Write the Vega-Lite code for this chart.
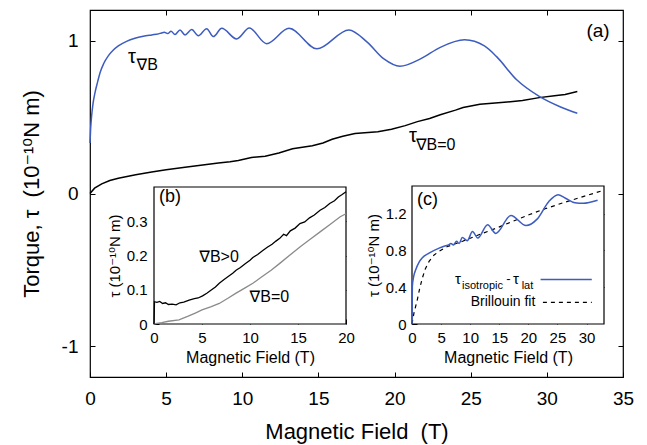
{
  "$schema": "https://vega.github.io/schema/vega-lite/v6.json",
  "width": 533,
  "height": 367,
  "autosize": "none",
  "padding": {"left": 90, "top": 10, "right": 24, "bottom": 68},
  "background": "white",
  "config": {
    "view": {"stroke": "black", "strokeWidth": 1.2},
    "font": "Liberation Sans, DejaVu Sans",
    "axis": {
      "grid": false, "domain": false, "tickColor": "black", "tickWidth": 1,
      "labelColor": "black", "titleColor": "black",
      "labelFont": "Liberation Sans, DejaVu Sans", "titleFont": "Liberation Sans, DejaVu Sans",
      "titleFontWeight": "normal", "zindex": 1, "tickSize": -5,
      "labelFlush": false, "labelOverlap": false, "labelBound": false
    },
    "text": {"font": "Liberation Sans, DejaVu Sans", "color": "black"}
  },
  "datasets": {
    "mainGrad": [
      {"B":0,"T":0.33},{"B":0.04,"T":0.42},{"B":0.1,"T":0.5},{"B":0.2,"T":0.59},{"B":0.33,"T":0.66},{"B":0.5,"T":0.73},{"B":0.66,"T":0.79},{"B":0.9,"T":0.85},{"B":1.2,"T":0.9},{"B":1.5,"T":0.935},{"B":1.86,"T":0.965},{"B":2.4,"T":0.995},{"B":2.95,"T":1.015},{"B":3.5,"T":1.028},{"B":4.05,"T":1.037},{"B":4.5,"T":1.044},{"B":4.7,"T":1.05},{"B":4.88,"T":1.054},{"B":5.1,"T":1.046},{"B":5.32,"T":1.061},{"B":5.58,"T":1.04},{"B":5.91,"T":1.069},{"B":6.24,"T":1.037},{"B":6.68,"T":1.072},{"B":7.11,"T":1.032},{"B":7.66,"T":1.078},{"B":8.1,"T":1.026},{"B":8.65,"T":1.08},{"B":9.63,"T":1.011},{"B":10.46,"T":1.082},{"B":11.6,"T":0.98},{"B":13.07,"T":1.08},{"B":14.9,"T":0.946},{"B":17.0,"T":1.07},{"B":18.2,"T":0.99},{"B":19.3,"T":0.88},{"B":20.35,"T":0.832},{"B":21.7,"T":0.88},{"B":23.0,"T":0.956},{"B":24.6,"T":1.005},{"B":25.9,"T":0.965},{"B":26.7,"T":0.895},{"B":28.0,"T":0.745},{"B":29.5,"T":0.635},{"B":30.9,"T":0.566},{"B":32.0,"T":0.525}
    ],
    "mainZero": [
      {"B":0,"T":0},{"B":0.3,"T":0.035},{"B":0.77,"T":0.063},{"B":1.3,"T":0.085},{"B":1.86,"T":0.1},{"B":3,"T":0.122},{"B":4.05,"T":0.14},{"B":5,"T":0.155},{"B":6.24,"T":0.172},{"B":7.4,"T":0.186},{"B":8.43,"T":0.2},{"B":9.2,"T":0.207},{"B":9.74,"T":0.216},{"B":10.6,"T":0.236},{"B":11.5,"T":0.244},{"B":12.4,"T":0.265},{"B":13.3,"T":0.293},{"B":14.6,"T":0.312},{"B":15.3,"T":0.33},{"B":15.9,"T":0.355},{"B":16.6,"T":0.375},{"B":17.4,"T":0.393},{"B":18.9,"T":0.404},{"B":19.8,"T":0.42},{"B":20.7,"T":0.444},{"B":21.5,"T":0.47},{"B":22.3,"T":0.49},{"B":23.0,"T":0.515},{"B":24.0,"T":0.545},{"B":24.5,"T":0.562},{"B":25.6,"T":0.584},{"B":27,"T":0.595},{"B":28.4,"T":0.608},{"B":29.5,"T":0.627},{"B":30.5,"T":0.64},{"B":31.2,"T":0.648},{"B":32,"T":0.667}
    ],
    "bGrad": [
      {"B":0,"T":0},{"B":0.05,"T":0.065},{"B":0.3,"T":0.063},{"B":0.6,"T":0.066},{"B":0.9,"T":0.06},{"B":1.2,"T":0.062},{"B":1.5,"T":0.057},{"B":1.9,"T":0.058},{"B":2.3,"T":0.056},{"B":2.7,"T":0.062},{"B":3.1,"T":0.064},{"B":3.66,"T":0.07},{"B":4.2,"T":0.074},{"B":4.6,"T":0.076},{"B":5.06,"T":0.082},{"B":5.5,"T":0.09},{"B":6.0,"T":0.1},{"B":6.4,"T":0.108},{"B":6.8,"T":0.119},{"B":7.3,"T":0.13},{"B":7.8,"T":0.14},{"B":8.2,"T":0.148},{"B":8.55,"T":0.157},{"B":9.0,"T":0.165},{"B":9.5,"T":0.176},{"B":10.0,"T":0.186},{"B":10.3,"T":0.194},{"B":10.8,"T":0.203},{"B":11.3,"T":0.214},{"B":11.8,"T":0.224},{"B":12.3,"T":0.233},{"B":12.7,"T":0.242},{"B":13.1,"T":0.25},{"B":13.5,"T":0.262},{"B":13.8,"T":0.258},{"B":14.2,"T":0.272},{"B":14.7,"T":0.28},{"B":15.2,"T":0.293},{"B":15.7,"T":0.298},{"B":16.2,"T":0.31},{"B":16.7,"T":0.318},{"B":17.3,"T":0.332},{"B":17.8,"T":0.34},{"B":18.3,"T":0.352},{"B":18.8,"T":0.36},{"B":19.2,"T":0.371},{"B":19.6,"T":0.378},{"B":20,"T":0.386}
    ],
    "bZero": [
      {"B":0,"T":0},{"B":0.3,"T":0.002},{"B":0.8,"T":0.004},{"B":1.5,"T":0.008},{"B":2.6,"T":0.012},{"B":3.5,"T":0.022},{"B":4.3,"T":0.032},{"B":5.0,"T":0.041},{"B":5.9,"T":0.05},{"B":6.8,"T":0.06},{"B":7.7,"T":0.075},{"B":8.55,"T":0.09},{"B":9.4,"T":0.104},{"B":10.3,"T":0.119},{"B":11.2,"T":0.137},{"B":12.2,"T":0.157},{"B":13.1,"T":0.177},{"B":14.1,"T":0.2},{"B":15.2,"T":0.225},{"B":16.2,"T":0.246},{"B":17.3,"T":0.269},{"B":18.3,"T":0.29},{"B":19.4,"T":0.313},{"B":20,"T":0.322}
    ],
    "cIso": [
      {"B":0,"T":0},{"B":0.03,"T":0.2},{"B":0.06,"T":0.41},{"B":0.3,"T":0.52},{"B":0.64,"T":0.59},{"B":1.2,"T":0.67},{"B":1.78,"T":0.72},{"B":2.93,"T":0.77},{"B":4.66,"T":0.825},{"B":5.5,"T":0.845},{"B":6.38,"T":0.862},{"B":6.68,"T":0.875},{"B":7.11,"T":0.86},{"B":7.66,"T":0.9},{"B":8.1,"T":0.875},{"B":8.65,"T":0.94},{"B":9.5,"T":0.905},{"B":10.4,"T":1.005},{"B":11.3,"T":0.935},{"B":13.0,"T":1.08},{"B":14.4,"T":0.985},{"B":17.0,"T":1.18},{"B":19.6,"T":1.07},{"B":21.5,"T":1.14},{"B":23.5,"T":1.33},{"B":25.1,"T":1.405},{"B":26.3,"T":1.37},{"B":28.0,"T":1.318},{"B":29.4,"T":1.312},{"B":31.9,"T":1.345}
    ],
    "cFit": [
      {"B":0,"T":0},{"B":0.34,"T":0.12},{"B":0.9,"T":0.26},{"B":1.3,"T":0.38},{"B":1.78,"T":0.5},{"B":2.3,"T":0.6},{"B":2.93,"T":0.68},{"B":3.8,"T":0.75},{"B":4.66,"T":0.79},{"B":6,"T":0.84},{"B":8.7,"T":0.9},{"B":11.5,"T":0.97},{"B":14.4,"T":1.04},{"B":17.3,"T":1.115},{"B":20.2,"T":1.19},{"B":23,"T":1.255},{"B":25.9,"T":1.316},{"B":29.4,"T":1.385},{"B":32.8,"T":1.45}
    ]
  },
  "layer": [
    {
      "encoding": {
        "x": {"field": "B", "type": "quantitative",
          "scale": {"domain": [0, 35], "nice": false, "zero": false},
          "axis": {"orient": "bottom", "values": [0,5,10,15,20,25,30,35], "labelExpr": "''+datum.value", "labelFontSize": 19, "labelPadding": 17, "title": "Magnetic Field\u00a0 (T)", "titleFontSize": 22, "titlePadding": 13}},
        "y": {"field": "T", "type": "quantitative",
          "scale": {"domain": [-1.2, 1.2], "nice": false, "zero": false},
          "axis": {"orient": "left", "values": [-1,0,1], "labelExpr": "''+datum.value", "labelFontSize": 19, "labelPadding": 17, "title": "Torque, τ\u00a0 (10⁻¹⁰N m)", "titleFontSize": 22, "titlePadding": 18}}
      },
      "layer": [
        {"data": {"name": "mainZero"}, "mark": {"type": "line", "color": "black", "strokeWidth": 1.5}},
        {"data": {"name": "mainGrad"}, "mark": {"type": "line", "interpolate": "monotone", "color": "#3d5cbf", "strokeWidth": 1.5}},
        {"data": {"values": [{"B": 2.5, "T": 0.89, "label": "τ"}, {"B": 20.95, "T": 0.373, "label": "τ"}]},
         "mark": {"type": "text", "align": "left", "baseline": "middle", "fontSize": 20},
         "encoding": {"text": {"field": "label"}}},
        {"data": {"values": [{"B": 3.05, "T": 0.84, "label": "∇B"}, {"B": 21.4, "T": 0.32, "label": "∇B=0"}]},
         "mark": {"type": "text", "align": "left", "baseline": "middle", "fontSize": 16},
         "encoding": {"text": {"field": "label"}}},
        {"data": {"values": [{"B": 32.6, "T": 1.062, "label": "(a)"}]},
         "mark": {"type": "text", "align": "left", "baseline": "middle", "fontSize": 19},
         "encoding": {"text": {"field": "label"}}}
      ]
    },
    {
      "data": {"values": [{"B": 0, "T": 0}]},
      "mark": {"type": "point", "opacity": 0},
      "encoding": {
        "x": {"field": "B", "type": "quantitative", "scale": {"domain": [0, 35], "nice": false, "zero": false},
          "axis": {"orient": "top", "values": [5,10,15,20,25,30], "labels": false, "title": null}},
        "y": {"field": "T", "type": "quantitative", "scale": {"domain": [-1.2, 1.2], "nice": false, "zero": false},
          "axis": {"orient": "right", "values": [-1,0,1], "labels": false, "title": null}}
      }
    },
    {
      "encoding": {
        "x": {"field": "B", "type": "quantitative",
          "scale": {"domain": [0, 20], "range": [64, 256], "nice": false, "zero": false},
          "axis": {"orient": "bottom", "offset": -53, "values": [0,5,10,15,20], "labelExpr": "''+datum.value", "labelFontSize": 15, "labelPadding": 11, "title": "Magnetic Field (T)", "titleFontSize": 16, "titlePadding": 4}},
        "y": {"field": "T", "type": "quantitative",
          "scale": {"domain": [0, 0.4], "range": [314, 177], "nice": false, "zero": false},
          "axis": {"orient": "left", "offset": -64, "values": [0,0.1,0.2,0.3], "labelExpr": "''+datum.value", "labelFontSize": 15, "labelPadding": 12, "title": "τ (10⁻¹⁰N m)", "titleFontSize": 15, "titlePadding": 4}}
      },
      "layer": [
        {"data": {"values": [{"B": 0, "B2": 20, "T": 0, "T2": 0.4}]},
         "mark": {"type": "rect", "fill": "white", "stroke": "black", "strokeWidth": 1.2},
         "encoding": {"x2": {"field": "B2"}, "y2": {"field": "T2"}}},
        {"data": {"name": "bZero"}, "mark": {"type": "line", "color": "#8a8a8a", "strokeWidth": 1.3}},
        {"data": {"name": "bGrad"}, "mark": {"type": "line", "color": "black", "strokeWidth": 1.3}},
        {"data": {"values": [{"B": 4.71, "T": 0.195, "label": "∇B>0"}, {"B": 9.95, "T": 0.079, "label": "∇B=0"}]},
         "mark": {"type": "text", "align": "left", "baseline": "middle", "fontSize": 16},
         "encoding": {"text": {"field": "label"}}},
        {"data": {"values": [{"B": 0.52, "T": 0.372, "label": "(b)"}]},
         "mark": {"type": "text", "align": "left", "baseline": "middle", "fontSize": 18},
         "encoding": {"text": {"field": "label"}}}
      ]
    },
    {
      "data": {"values": [{"B": 0, "T": 0}]},
      "mark": {"type": "point", "opacity": 0},
      "encoding": {
        "x": {"field": "B", "type": "quantitative", "scale": {"domain": [0, 20], "range": [64, 256], "nice": false, "zero": false},
          "axis": {"orient": "top", "offset": -177, "values": [5,10,15], "labels": false, "title": null}},
        "y": {"field": "T", "type": "quantitative", "scale": {"domain": [0, 0.4], "range": [314, 177], "nice": false, "zero": false},
          "axis": {"orient": "right", "offset": -277, "values": [0.1,0.2,0.3], "labels": false, "title": null}}
      }
    },
    {
      "encoding": {
        "x": {"field": "B", "type": "quantitative",
          "scale": {"domain": [0, 33], "range": [322, 514], "nice": false, "zero": false},
          "axis": {"orient": "bottom", "offset": -53, "values": [0,5,10,15,20,25,30], "labelExpr": "''+datum.value", "labelFontSize": 15, "labelPadding": 11, "title": "Magnetic Field (T)", "titleFontSize": 16, "titlePadding": 4}},
        "y": {"field": "T", "type": "quantitative",
          "scale": {"domain": [0, 1.5], "range": [314, 176], "nice": false, "zero": false},
          "axis": {"orient": "left", "offset": -322, "values": [0,0.4,0.8,1.2], "labelExpr": "''+datum.value", "labelFontSize": 15, "labelPadding": 11, "title": "τ (10⁻¹⁰N m)", "titleFontSize": 15, "titlePadding": 4}}
      },
      "layer": [
        {"data": {"values": [{"B": 0, "B2": 33, "T": 0, "T2": 1.5}]},
         "mark": {"type": "rect", "fill": "white", "stroke": "black", "strokeWidth": 1.2},
         "encoding": {"x2": {"field": "B2"}, "y2": {"field": "T2"}}},
        {"data": {"name": "cFit"}, "mark": {"type": "line", "color": "black", "strokeWidth": 1.2, "strokeDash": [4, 4]}},
        {"data": {"name": "cIso"}, "mark": {"type": "line", "interpolate": "monotone", "color": "#3d5cbf", "strokeWidth": 1.5}},
        {"data": {"values": [{"B": 22.1, "B2": 30.9, "T": 0.485}]},
         "mark": {"type": "rule", "color": "#3d5cbf", "strokeWidth": 1.5},
         "encoding": {"x2": {"field": "B2"}}},
        {"data": {"values": [{"B": 22.5, "B2": 30.9, "T": 0.235}]},
         "mark": {"type": "rule", "color": "black", "strokeWidth": 1.2, "strokeDash": [4, 4]},
         "encoding": {"x2": {"field": "B2"}}},
        {"data": {"values": [{"B": 7.4, "T": 0.49, "label": "τ"}, {"B": 17.35, "T": 0.49, "label": "τ"}]},
         "mark": {"type": "text", "align": "left", "baseline": "middle", "fontSize": 15},
         "encoding": {"text": {"field": "label"}}},
        {"data": {"values": [{"B": 16.2, "T": 0.49, "label": "-"}]},
         "mark": {"type": "text", "align": "left", "baseline": "middle", "fontSize": 13},
         "encoding": {"text": {"field": "label"}}},
        {"data": {"values": [{"B": 8.6, "T": 0.415, "label": "isotropic"}, {"B": 18.85, "T": 0.415, "label": "lat"}]},
         "mark": {"type": "text", "align": "left", "baseline": "middle", "fontSize": 11},
         "encoding": {"text": {"field": "label"}}},
        {"data": {"values": [{"B": 21.2, "T": 0.235, "label": "Brillouin fit"}]},
         "mark": {"type": "text", "align": "right", "baseline": "middle", "fontSize": 14},
         "encoding": {"text": {"field": "label"}}},
        {"data": {"values": [{"B": 0.86, "T": 1.352, "label": "(c)"}]},
         "mark": {"type": "text", "align": "left", "baseline": "middle", "fontSize": 18},
         "encoding": {"text": {"field": "label"}}}
      ]
    },
    {
      "data": {"values": [{"B": 0, "T": 0}]},
      "mark": {"type": "point", "opacity": 0},
      "encoding": {
        "x": {"field": "B", "type": "quantitative", "scale": {"domain": [0, 33], "range": [322, 514], "nice": false, "zero": false},
          "axis": {"orient": "top", "offset": -176, "values": [5,10,15,20,25,30], "labels": false, "title": null}},
        "y": {"field": "T", "type": "quantitative", "scale": {"domain": [0, 1.5], "range": [314, 176], "nice": false, "zero": false},
          "axis": {"orient": "right", "offset": -19, "values": [0.4,0.8,1.2], "labels": false, "title": null}}
      }
    }
  ],
  "resolve": {"scale": {"x": "independent", "y": "independent"}, "axis": {"x": "independent", "y": "independent"}}
}
